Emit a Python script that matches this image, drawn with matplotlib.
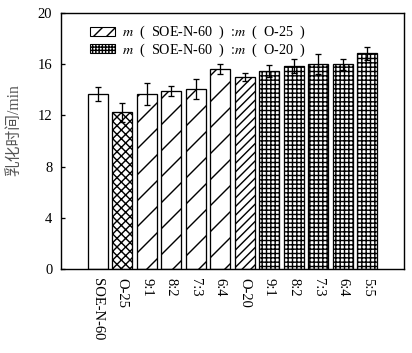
import matplotlib
matplotlib.use("Agg")
import matplotlib.pyplot as plt
from matplotlib.patches import Patch

plt.rcParams['font.family'] = ['Liberation Serif', 'Noto Sans CJK SC', 'DejaVu Sans']
plt.rcParams['mathtext.fontset'] = 'stix'
plt.rcParams['hatch.linewidth'] = 1.3

categories = ['SOE-N-60', 'O-25', '9:1', '8:2', '7:3', '6:4',
              'O-20', '9:1', '8:2', '7:3', '6:4', '5:5']
values = [13.65, 12.25, 13.65, 13.88, 14.04, 15.6,
          14.98, 15.45, 15.86, 15.98, 15.98, 16.86]
errors = [0.55, 0.75, 0.85, 0.4, 0.78, 0.38,
          0.3, 0.45, 0.52, 0.78, 0.4, 0.52]
hatches = ['', 'xxx', '/', '/', '/', '/',
           '///', '+++', '+++', '+++', '+++', '+++']
legend_labels = [r'$m$  (  SOE-N-60  )  :$m$  (  O-25  )',
                 r'$m$  (  SOE-N-60  )  :$m$  (  O-20  )']
yticks = [0, 4, 8, 12, 16, 20]

dpi = 78
fig = plt.figure(figsize=(412 / dpi, 353 / dpi), dpi=dpi)
ax = fig.add_axes([61 / 412, 1 - 269 / 353, (404 - 61) / 412, (269 - 13) / 353])

x = list(range(len(categories)))
for xi, v, e, h in zip(x, values, errors, hatches):
    ax.bar(xi, v, width=0.82, color='white', edgecolor='black',
           linewidth=1.2, hatch=h, zorder=2)
ax.errorbar(x, values, yerr=errors, fmt='none', ecolor='black',
            elinewidth=1.2, capsize=3.2, capthick=1.2, zorder=3)

ax.set_xlim(-1.5, len(categories) + 0.5)
ax.set_ylim(0, 20)
ax.set_yticks(yticks)
ax.set_xticks(x)
ax.set_xticklabels(categories, rotation=270, fontsize=13.5)
ax.tick_params(axis='y', direction='in', length=4, width=1.2, labelsize=13.5, pad=8)
ax.tick_params(axis='x', length=0, pad=8)
for s in ax.spines.values():
    s.set_linewidth(1.3)

ax.set_ylabel('乳化时间/min', fontsize=14.5, color='#555555')
ax.yaxis.set_label_coords(-0.112, 0.543)

handles = [Patch(facecolor='white', edgecolor='black', hatch='//'),
           Patch(facecolor='white', edgecolor='black', hatch='++++')]
leg = ax.legend(handles, legend_labels, loc='upper left',
                bbox_to_anchor=(0.06, 0.99), frameon=False, fontsize=13,
                handlelength=1.8, handleheight=0.6, handletextpad=0.5,
                labelspacing=0.0, borderpad=0.1)

fig.savefig('out.png', dpi=dpi)
